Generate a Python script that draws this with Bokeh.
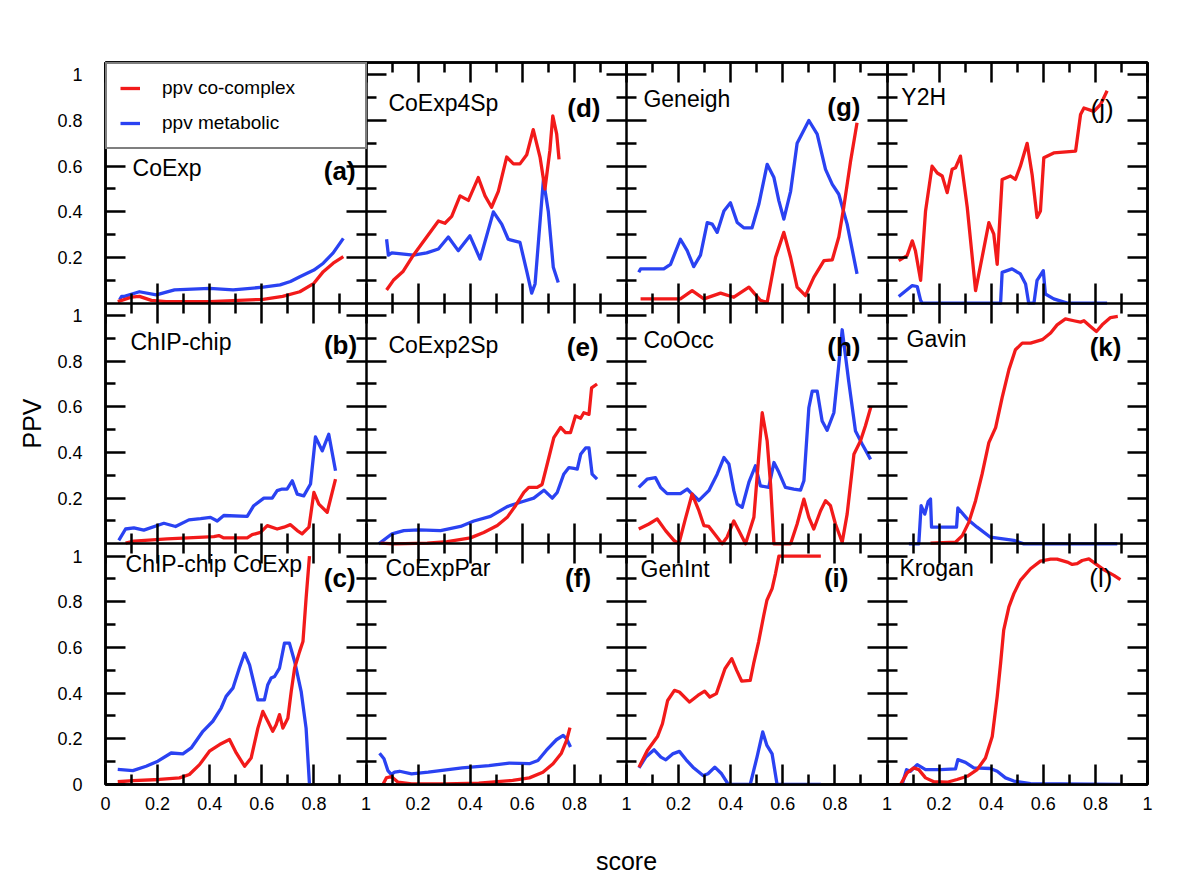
from bokeh.plotting import figure
from bokeh.models import Range1d, LinearAxis, FixedTicker, Label, Legend, LegendItem
from bokeh.embed import file_html
from bokeh.resources import INLINE

# ---------------- data (score, PPV) per panel ----------------
# (a) CoExp
a_cc_x = [0.047, 0.099, 0.13, 0.176, 0.233, 0.4, 0.605, 0.68, 0.746, 0.8, 0.836, 0.874, 0.913]
a_cc_y = [0.007, 0.026, 0.03, 0.012, 0.007, 0.007, 0.017, 0.03, 0.05, 0.087, 0.138, 0.175, 0.204]
a_met_x = [0.054, 0.062, 0.073, 0.13, 0.195, 0.265, 0.4, 0.49, 0.605, 0.67, 0.71, 0.746, 0.8, 0.836, 0.874, 0.913]
a_met_y = [0.015, 0.03, 0.03, 0.05, 0.036, 0.058, 0.065, 0.058, 0.07, 0.08, 0.095, 0.116, 0.145, 0.175, 0.22, 0.284]
# (b) ChIP-chip
b_cc_x = [0.077, 0.109, 0.237, 0.416, 0.435, 0.454, 0.544, 0.563, 0.595, 0.621, 0.659, 0.685, 0.71, 0.736, 0.755, 0.781, 0.8, 0.819, 0.851, 0.883]
b_cc_y = [0.003, 0.012, 0.022, 0.032, 0.036, 0.026, 0.026, 0.04, 0.05, 0.08, 0.065, 0.073, 0.084, 0.058, 0.044, 0.073, 0.225, 0.174, 0.138, 0.283]
b_met_x = [0.051, 0.077, 0.109, 0.147, 0.224, 0.269, 0.32, 0.365, 0.403, 0.429, 0.454, 0.544, 0.569, 0.608, 0.64, 0.659, 0.678, 0.697, 0.717, 0.736, 0.761, 0.787, 0.806, 0.832, 0.857, 0.883]
b_met_y = [0.015, 0.065, 0.07, 0.06, 0.09, 0.076, 0.105, 0.11, 0.116, 0.1, 0.124, 0.12, 0.167, 0.2, 0.2, 0.233, 0.24, 0.24, 0.276, 0.218, 0.21, 0.262, 0.468, 0.407, 0.48, 0.32]
# (c) ChIP-chip CoExp
c_cc_x = [0.047, 0.105, 0.207, 0.284, 0.322, 0.361, 0.399, 0.438, 0.476, 0.502, 0.534, 0.559, 0.585, 0.604, 0.623, 0.642, 0.655, 0.668, 0.681, 0.7, 0.713, 0.726, 0.745, 0.758, 0.77, 0.783]
c_cc_y = [0.012, 0.017, 0.022, 0.029, 0.044, 0.087, 0.146, 0.175, 0.197, 0.138, 0.08, 0.116, 0.247, 0.32, 0.277, 0.233, 0.262, 0.306, 0.247, 0.29, 0.408, 0.51, 0.582, 0.626, 0.815, 1.0]
c_met_x = [0.047, 0.105, 0.156, 0.201, 0.252, 0.297, 0.329, 0.374, 0.412, 0.444, 0.463, 0.489, 0.514, 0.534, 0.553, 0.585, 0.61, 0.623, 0.636, 0.649, 0.668, 0.687, 0.706, 0.726, 0.751, 0.77, 0.783]
c_met_y = [0.066, 0.061, 0.08, 0.102, 0.138, 0.134, 0.16, 0.233, 0.277, 0.335, 0.386, 0.422, 0.51, 0.575, 0.524, 0.371, 0.371, 0.437, 0.466, 0.473, 0.51, 0.619, 0.619, 0.539, 0.408, 0.247, 0.0]
# (d) CoExp4Sp
d_cc_x = [0.079, 0.105, 0.143, 0.182, 0.233, 0.278, 0.303, 0.329, 0.361, 0.393, 0.431, 0.457, 0.482, 0.508, 0.54, 0.566, 0.591, 0.617, 0.642, 0.668, 0.687, 0.706, 0.717, 0.732, 0.741]
d_cc_y = [0.058, 0.1, 0.14, 0.21, 0.29, 0.36, 0.35, 0.38, 0.47, 0.45, 0.55, 0.47, 0.42, 0.49, 0.64, 0.61, 0.61, 0.65, 0.76, 0.64, 0.5, 0.67, 0.82, 0.74, 0.63]
d_met_x = [0.079, 0.086, 0.099, 0.182, 0.233, 0.278, 0.316, 0.354, 0.399, 0.438, 0.489, 0.521, 0.546, 0.591, 0.617, 0.636, 0.649, 0.681, 0.7, 0.719, 0.738]
d_met_y = [0.28, 0.21, 0.22, 0.21, 0.22, 0.237, 0.29, 0.23, 0.295, 0.193, 0.4, 0.346, 0.28, 0.266, 0.14, 0.044, 0.084, 0.54, 0.4, 0.157, 0.09]
# (e) CoExp2Sp
e_cc_x = [0.056, 0.107, 0.235, 0.312, 0.401, 0.452, 0.504, 0.542, 0.574, 0.606, 0.625, 0.657, 0.676, 0.702, 0.721, 0.747, 0.766, 0.785, 0.804, 0.824, 0.836, 0.856, 0.866, 0.887]
e_cc_y = [0.003, 0.0, 0.003, 0.01, 0.026, 0.05, 0.08, 0.116, 0.167, 0.225, 0.247, 0.247, 0.26, 0.378, 0.465, 0.51, 0.487, 0.487, 0.56, 0.55, 0.574, 0.567, 0.683, 0.7]
e_met_x = [0.049, 0.1, 0.145, 0.203, 0.286, 0.363, 0.414, 0.478, 0.542, 0.593, 0.644, 0.683, 0.715, 0.734, 0.759, 0.779, 0.798, 0.811, 0.824, 0.843, 0.856, 0.868, 0.887]
e_met_y = [0.0, 0.044, 0.058, 0.061, 0.058, 0.076, 0.1, 0.12, 0.163, 0.182, 0.2, 0.235, 0.2, 0.225, 0.305, 0.334, 0.33, 0.327, 0.392, 0.42, 0.42, 0.305, 0.283]
# (f) CoExpPar
f_cc_x = [0.065, 0.078, 0.097, 0.123, 0.175, 0.304, 0.433, 0.563, 0.627, 0.679, 0.718, 0.75, 0.77, 0.783]
f_cc_y = [0.0, 0.029, 0.035, 0.01, 0.003, 0.003, 0.006, 0.018, 0.029, 0.054, 0.091, 0.137, 0.193, 0.249]
f_met_x = [0.052, 0.069, 0.084, 0.097, 0.11, 0.129, 0.175, 0.239, 0.369, 0.472, 0.55, 0.627, 0.66, 0.692, 0.731, 0.757, 0.77, 0.785]
f_met_y = [0.137, 0.113, 0.061, 0.044, 0.054, 0.058, 0.047, 0.054, 0.073, 0.083, 0.094, 0.091, 0.105, 0.149, 0.196, 0.215, 0.2, 0.164]
# (g) Geneigh
g_cc_x = [0.054, 0.207, 0.252, 0.297, 0.361, 0.412, 0.47, 0.514, 0.54, 0.572, 0.604, 0.63, 0.655, 0.687, 0.719, 0.758, 0.79, 0.815, 0.834, 0.86, 0.885]
g_cc_y = [0.019, 0.019, 0.055, 0.019, 0.044, 0.026, 0.07, 0.012, 0.004, 0.2, 0.31, 0.2, 0.07, 0.033, 0.113, 0.186, 0.19, 0.29, 0.42, 0.62, 0.79]
g_met_x = [0.047, 0.054, 0.143, 0.169, 0.207, 0.233, 0.258, 0.284, 0.31, 0.329, 0.348, 0.374, 0.399, 0.425, 0.45, 0.482, 0.508, 0.54, 0.566, 0.585, 0.604, 0.63, 0.655, 0.7, 0.732, 0.764, 0.79, 0.815, 0.847, 0.885]
g_met_y = [0.135, 0.15, 0.15, 0.17, 0.28, 0.23, 0.16, 0.21, 0.353, 0.346, 0.31, 0.404, 0.44, 0.353, 0.33, 0.33, 0.433, 0.608, 0.55, 0.448, 0.368, 0.49, 0.70, 0.80, 0.74, 0.586, 0.52, 0.477, 0.346, 0.128]
# (h) CoOcc
h_cc_x = [0.047, 0.086, 0.118, 0.15, 0.182, 0.201, 0.226, 0.252, 0.278, 0.297, 0.316, 0.348, 0.367, 0.386, 0.412, 0.431, 0.457, 0.489, 0.521, 0.54, 0.553, 0.566, 0.63, 0.655, 0.681, 0.7, 0.719, 0.745, 0.764, 0.783, 0.802, 0.828, 0.847, 0.873, 0.898, 0.917, 0.939]
h_cc_y = [0.065, 0.087, 0.109, 0.058, 0.015, 0.0, 0.109, 0.218, 0.145, 0.08, 0.076, 0.029, 0.0, 0.029, 0.1, 0.058, 0.0, 0.116, 0.574, 0.45, 0.262, 0.0, 0.0, 0.087, 0.196, 0.116, 0.065, 0.145, 0.189, 0.167, 0.087, 0.007, 0.13, 0.392, 0.45, 0.516, 0.603]
h_met_x = [0.047, 0.079, 0.111, 0.131, 0.156, 0.207, 0.233, 0.252, 0.278, 0.316, 0.348, 0.374, 0.393, 0.412, 0.425, 0.444, 0.47, 0.495, 0.514, 0.546, 0.566, 0.585, 0.61, 0.642, 0.668, 0.681, 0.7, 0.713, 0.732, 0.751, 0.77, 0.796, 0.815, 0.828, 0.853, 0.879, 0.905, 0.937]
h_met_y = [0.247, 0.283, 0.29, 0.247, 0.22, 0.22, 0.24, 0.218, 0.19, 0.233, 0.305, 0.378, 0.35, 0.233, 0.174, 0.16, 0.27, 0.342, 0.254, 0.247, 0.356, 0.313, 0.247, 0.24, 0.235, 0.276, 0.596, 0.669, 0.669, 0.538, 0.497, 0.574, 0.785, 0.9375, 0.712, 0.494, 0.436, 0.37]
# (i) GenInt
i_cc_x = [0.048, 0.08, 0.119, 0.138, 0.158, 0.184, 0.203, 0.242, 0.274, 0.3, 0.32, 0.345, 0.378, 0.404, 0.423, 0.442, 0.475, 0.488, 0.507, 0.527, 0.539, 0.559, 0.572, 0.585, 0.746]
i_cc_y = [0.076, 0.149, 0.21, 0.266, 0.368, 0.412, 0.405, 0.361, 0.39, 0.409, 0.383, 0.398, 0.507, 0.551, 0.5, 0.453, 0.456, 0.529, 0.624, 0.741, 0.807, 0.858, 0.924, 1.0, 1.0]
i_met_x = [0.048, 0.074, 0.106, 0.132, 0.151, 0.177, 0.203, 0.229, 0.255, 0.294, 0.313, 0.339, 0.365, 0.391, 0.475, 0.501, 0.523, 0.539, 0.559, 0.578, 0.746]
i_met_y = [0.073, 0.12, 0.152, 0.12, 0.108, 0.134, 0.145, 0.108, 0.076, 0.039, 0.047, 0.076, 0.047, 0.0, 0.0, 0.12, 0.23, 0.171, 0.134, 0.0, 0.0]
# (j) Y2H
j_cc_x = [0.045, 0.077, 0.097, 0.109, 0.129, 0.148, 0.173, 0.193, 0.212, 0.231, 0.25, 0.263, 0.282, 0.308, 0.34, 0.365, 0.391, 0.41, 0.423, 0.442, 0.474, 0.493, 0.512, 0.538, 0.557, 0.576, 0.589, 0.602, 0.64, 0.724, 0.743, 0.756, 0.794, 0.82, 0.845]
j_cc_y = [0.186, 0.208, 0.273, 0.23, 0.1, 0.404, 0.6, 0.57, 0.557, 0.484, 0.586, 0.593, 0.644, 0.42, 0.055, 0.2, 0.353, 0.302, 0.17, 0.542, 0.557, 0.542, 0.6, 0.70, 0.564, 0.375, 0.404, 0.637, 0.658, 0.666, 0.826, 0.855, 0.84, 0.87, 0.93]
j_met_x = [0.045, 0.097, 0.116, 0.129, 0.135, 0.436, 0.442, 0.48, 0.512, 0.532, 0.544, 0.564, 0.576, 0.6, 0.608, 0.64, 0.692, 0.845]
j_met_y = [0.029, 0.077, 0.073, 0.012, 0.0, 0.0, 0.135, 0.15, 0.128, 0.084, 0.0, 0.0, 0.1, 0.142, 0.04, 0.019, 0.0, 0.0]
# (k) Gavin
k_cc_x = [0.167, 0.263, 0.289, 0.314, 0.34, 0.365, 0.391, 0.417, 0.442, 0.468, 0.493, 0.519, 0.551, 0.596, 0.628, 0.653, 0.685, 0.717, 0.743, 0.756, 0.781, 0.804, 0.826, 0.858, 0.886]
k_cc_y = [0.003, 0.007, 0.036, 0.094, 0.189, 0.305, 0.443, 0.509, 0.64, 0.763, 0.85, 0.879, 0.879, 0.894, 0.923, 0.959, 0.985, 0.977, 0.971, 0.977, 0.952, 0.93, 0.959, 0.991, 0.996]
k_met_x = [0.084, 0.122, 0.131, 0.145, 0.158, 0.167, 0.171, 0.267, 0.272, 0.308, 0.346, 0.397, 0.487, 0.525, 0.884]
k_met_y = [0.0, 0.0, 0.167, 0.13, 0.185, 0.196, 0.073, 0.073, 0.157, 0.109, 0.073, 0.029, 0.015, 0.0, 0.0]
# (l) Krogan
l_cc_x = [0.052, 0.077, 0.103, 0.122, 0.148, 0.18, 0.231, 0.269, 0.308, 0.346, 0.378, 0.404, 0.423, 0.436, 0.448, 0.468, 0.487, 0.512, 0.551, 0.589, 0.628, 0.653, 0.692, 0.711, 0.73, 0.749, 0.775, 0.8, 0.833, 0.871, 0.896]
l_cc_y = [0.0, 0.051, 0.073, 0.065, 0.029, 0.012, 0.01, 0.022, 0.036, 0.065, 0.116, 0.21, 0.385, 0.53, 0.676, 0.778, 0.836, 0.894, 0.945, 0.978, 0.987, 0.987, 0.974, 0.964, 0.967, 0.981, 0.988, 0.967, 0.94, 0.916, 0.897]
l_met_x = [0.058, 0.075, 0.09, 0.116, 0.148, 0.205, 0.263, 0.272, 0.301, 0.333, 0.397, 0.423, 0.455, 0.487, 0.551, 0.896]
l_met_y = [0.0, 0.065, 0.058, 0.087, 0.065, 0.065, 0.068, 0.109, 0.097, 0.073, 0.07, 0.058, 0.029, 0.015, 0.004, 0.0]

panel_names = ["CoExp", "ChIP-chip", "ChIP-chip CoExp", "CoExp4Sp", "CoExp2Sp", "CoExpPar",
               "Geneigh", "CoOcc", "GenInt", "Y2H", "Gavin", "Krogan"]
panel_tags = ["(a)", "(b)", "(c)", "(d)", "(e)", "(f)", "(g)", "(h)", "(i)", "(j)", "(k)", "(l)"]
series_names = ["ppv co-complex", "ppv metabolic"]

x_tick_vals = [0.2, 0.4, 0.6, 0.8]
x_tick_labels = ["0.2", "0.4", "0.6", "0.8"]
y_tick_vals = [0.2, 0.4, 0.6, 0.8, 1.0]
y_tick_labels = ["0.2", "0.4", "0.6", "0.8", "1"]
minor_vals = [0.1, 0.3, 0.5, 0.7, 0.9]

# ---------------- layout / style (not data) ----------------
NCOL, NROW, H = 4, 3, 1.054
FONT = "Liberation Sans"
RED, BLUE = "#f21a1a", "#2a42f2"
LW = 2.5

panel_cc = [(a_cc_x, a_cc_y), (b_cc_x, b_cc_y), (c_cc_x, c_cc_y), (d_cc_x, d_cc_y),
            (e_cc_x, e_cc_y), (f_cc_x, f_cc_y), (g_cc_x, g_cc_y), (h_cc_x, h_cc_y),
            (i_cc_x, i_cc_y), (j_cc_x, j_cc_y), (k_cc_x, k_cc_y), (l_cc_x, l_cc_y)]
panel_met = [(a_met_x, a_met_y), (b_met_x, b_met_y), (c_met_x, c_met_y), (d_met_x, d_met_y),
             (e_met_x, e_met_y), (f_met_x, f_met_y), (g_met_x, g_met_y), (h_met_x, h_met_y),
             (i_met_x, i_met_y), (j_met_x, j_met_y), (k_met_x, k_met_y), (l_met_x, l_met_y)]
name_pos = [(0.104, 0.59), (0.096, 0.884), (0.077, 0.967), (0.086, 0.875), (0.086, 0.87), (0.075, 0.95),
            (0.065, 0.892), (0.065, 0.892), (0.054, 0.945), (0.055, 0.905), (0.075, 0.897), (0.048, 0.95)]
tag_pos = [(0.96, 0.577), (0.966, 0.87), (0.96, 0.905), (0.9, 0.853), (0.893, 0.862), (0.864, 0.905),
           (0.898, 0.86), (0.898, 0.862), (0.852, 0.905), (0.87, 0.85), (0.9, 0.862), (0.865, 0.905)]
tag_bold = [True, True, True, True, True, True, True, True, True, False, True, False]

p = figure(frame_width=1042, frame_height=722,
           x_range=Range1d(0, NCOL), y_range=Range1d(0, NROW * H),
           min_border_left=105, min_border_top=62, min_border_bottom=102, min_border_right=22,
           output_backend="svg", toolbar_location=None, tools="")
p.grid.visible = False
p.outline_line_color = "black"
p.outline_line_width = LW
p.background_fill_color = "white"
p.border_fill_color = "white"

p.extra_x_ranges = {f"c{c}": Range1d(-c, NCOL - c) for c in range(NCOL)}
p.extra_y_ranges = {f"r{r}": Range1d(-(NROW - 1 - r) * H, (r + 1) * H) for r in range(NROW)}

# ticks
xt, xl = [], {}
for c in range(NCOL):
    v = float(c)
    xt.append(v)
    xl[v] = "0" if c == 0 else "1"
    for t, lab in zip(x_tick_vals, x_tick_labels):
        v = round(c + t, 6)
        xt.append(v)
        xl[v] = lab
xt.append(float(NCOL))
xl[float(NCOL)] = "1"
xminor = [round(c + m, 6) for c in range(NCOL) for m in minor_vals]

yt, yl = [0.0], {0.0: "0"}
for k in range(NROW):
    for t, lab in zip(y_tick_vals, y_tick_labels):
        v = round(k * H + t, 6)
        yt.append(v)
        yl[v] = lab
yminor = [round(k * H + m, 6) for k in range(NROW) for m in minor_vals]


def style(ax, tin, tout, labels):
    ax.major_tick_in = tin
    ax.major_tick_out = tout
    ax.minor_tick_in = tin // 2
    ax.minor_tick_out = tout // 2
    ax.major_tick_line_width = LW
    ax.minor_tick_line_width = LW
    ax.major_tick_line_color = "black"
    ax.minor_tick_line_color = "black"
    ax.axis_line_width = LW
    ax.axis_line_color = "black"
    if not labels:
        ax.major_label_text_color = None
        ax.major_label_text_font_size = "2px"
        ax.major_label_standoff = 0


xa = p.xaxis[0]
xa.ticker = FixedTicker(ticks=xt, minor_ticks=xminor)
xa.major_label_overrides = xl
style(xa, 20, 0, True)
xa.major_label_text_font = FONT
xa.major_label_text_font_size = "18px"
xa.major_label_text_color = "black"
xa.major_label_standoff = 12
xa.axis_label = "score"
xa.axis_label_text_font = FONT
xa.axis_label_text_font_size = "25px"
xa.axis_label_text_font_style = "normal"
xa.axis_label_text_color = "black"
xa.axis_label_standoff = 34

ya = p.yaxis[0]
ya.ticker = FixedTicker(ticks=yt, minor_ticks=yminor)
ya.major_label_overrides = yl
style(ya, 20, 0, True)
ya.major_label_text_font = FONT
ya.major_label_text_font_size = "18px"
ya.major_label_text_color = "black"
ya.major_label_standoff = 23
ya.axis_label = "PPV"
ya.axis_label_text_font = FONT
ya.axis_label_text_font_size = "25px"
ya.axis_label_text_font_style = "normal"
ya.axis_label_text_color = "black"
ya.axis_label_standoff = 8

top = LinearAxis(ticker=FixedTicker(ticks=xt, minor_ticks=xminor))
style(top, 20, 0, False)
p.add_layout(top, "above")
right = LinearAxis(ticker=FixedTicker(ticks=yt, minor_ticks=yminor))
style(right, 20, 0, False)
p.add_layout(right, "right")

for c in range(1, NCOL):
    ax = LinearAxis(fixed_location=float(c), ticker=FixedTicker(ticks=yt, minor_ticks=yminor))
    style(ax, 20, 20, False)
    p.add_layout(ax, "left")
for k in range(1, NROW):
    ax = LinearAxis(fixed_location=k * H, ticker=FixedTicker(ticks=xt, minor_ticks=xminor))
    style(ax, 20, 20, False)
    p.add_layout(ax, "below")

# curves and panel labels
legend_renderers = None
for i in range(len(panel_names)):
    c, r = i // NROW, i % NROW
    xr, yr = f"c{c}", f"r{r}"
    mx, my = panel_met[i]
    cx, cy = panel_cc[i]
    rb = p.line(mx, my, x_range_name=xr, y_range_name=yr, line_color=BLUE, line_width=3.3,
                line_join="round")
    rr = p.line(cx, cy, x_range_name=xr, y_range_name=yr, line_color=RED, line_width=3.3,
                line_join="round")
    if i == 0:
        legend_renderers = (rr, rb)
    nx, ny = name_pos[i]
    p.add_layout(Label(x=nx, y=ny, x_range_name=xr, y_range_name=yr, text=panel_names[i],
                       text_font=FONT, text_font_size="23px", text_color="black",
                       text_align="left", text_baseline="middle"))
    tx, ty = tag_pos[i]
    p.add_layout(Label(x=tx, y=ty, x_range_name=xr, y_range_name=yr, text=panel_tags[i],
                       text_font=FONT, text_font_size="26px", text_color="black",
                       text_font_style="bold" if tag_bold[i] else "normal",
                       text_align="right", text_baseline="middle"))

legend = Legend(items=[LegendItem(label=series_names[0], renderers=[legend_renderers[0]]),
                       LegendItem(label=series_names[1], renderers=[legend_renderers[1]])],
                location="top_left", margin=0, padding=13, spacing=13,
                label_height=22, glyph_height=22, glyph_width=20, label_standoff=22,
                label_width=190, border_line_color="black", border_line_width=LW,
                background_fill_color="white", background_fill_alpha=1.0,
                label_text_font=FONT, label_text_font_size="19px", label_text_color="black")
p.add_layout(legend)

open("out.html", "w").write(file_html(p, INLINE))
